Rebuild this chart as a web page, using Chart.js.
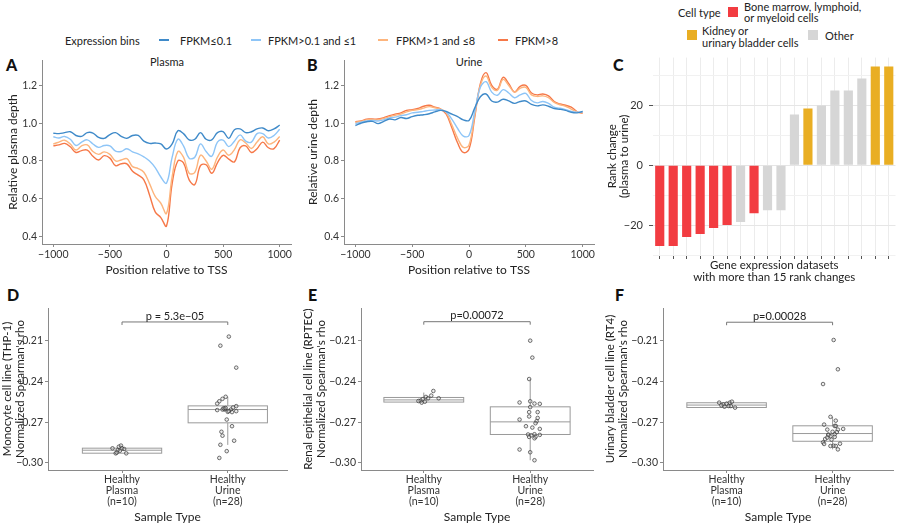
<!DOCTYPE html>
<html lang="en">
<head>
<meta charset="UTF-8">
<title>cfDNA TSS profiles and rank changes</title>
<script src="https://cdn.jsdelivr.net/npm/chart.js"></script>
<style>
  body { margin: 0; width: 900px; height: 524px; position: relative; overflow: hidden; background: #fff;
         font-family: Lato, "Open Sans", sans-serif; color: #222; }
  canvas { position: absolute; }
  .t { position: absolute; white-space: nowrap; font-size: 11px; line-height: 1; transform: translateY(-50%); }
  .c { transform: translate(-50%, -50%); }
  .letter { position: absolute; font-weight: 900; font-size: 16px; line-height: 1; transform: translateY(-50%); color: #111; }
  .sw { position: absolute; height: 2px; width: 10px; }
  .sq { position: absolute; width: 10px; height: 10px; }
</style>
</head>
<body>
  <!-- legends and panel labels -->
  <div class="t" style="left:65px; top:40px;">Expression bins</div>
  <div class="sw" style="left:159px; top:39px; background:#3f8ac9;"></div>
  <div class="t" style="left:180px; top:40px;">FPKM≤0.1</div>
  <div class="sw" style="left:251px; top:39px; background:#8ec5f7;"></div>
  <div class="t" style="left:268px; top:40px;">FPKM&gt;0.1 and ≤1</div>
  <div class="sw" style="left:378px; top:39px; background:#fdb57d;"></div>
  <div class="t" style="left:396px; top:40px;">FPKM&gt;1 and ≤8</div>
  <div class="sw" style="left:498px; top:39px; background:#f67848;"></div>
  <div class="t" style="left:515px; top:40px;">FPKM&gt;8</div>

  <div class="t" style="left:678px; top:12px;">Cell type</div>
  <div class="sq" style="left:728px; top:7px; background:#f23c41;"></div>
  <div class="t" style="left:744px; top:6px;">Bone marrow, lymphoid,</div>
  <div class="t" style="left:744px; top:17px;">or myeloid cells</div>
  <div class="sq" style="left:687px; top:30px; background:#e9ae23;"></div>
  <div class="t" style="left:702px; top:30px;">Kidney or</div>
  <div class="t" style="left:702px; top:42px;">urinary bladder cells</div>
  <div class="sq" style="left:808px; top:30px; background:#d6d6d6;"></div>
  <div class="t" style="left:825px; top:35px;">Other</div>

  <div class="letter" style="left:6px; top:65px;">A</div>
  <div class="letter" style="left:307px; top:65px;">B</div>
  <div class="letter" style="left:613px; top:65px;">C</div>
  <div class="letter" style="left:7px; top:295px;">D</div>
  <div class="letter" style="left:308px; top:295px;">E</div>
  <div class="letter" style="left:615px; top:295px;">F</div>

  <div class="t c" style="left:167px; top:61px;">Plasma</div>
  <div class="t c" style="left:469px; top:61px;">Urine</div>

  <canvas id="chartA" width="300" height="240" style="left:0; top:45px;"></canvas>
  <canvas id="chartB" width="300" height="240" style="left:300px; top:45px;"></canvas>
  <canvas id="chartC" width="310" height="245" style="left:590px; top:45px;"></canvas>
  <canvas id="chartD" width="300" height="234" style="left:0; top:290px;"></canvas>
  <canvas id="chartE" width="300" height="234" style="left:300px; top:290px;"></canvas>
  <canvas id="chartF" width="300" height="234" style="left:600px; top:290px;"></canvas>

<script>
// ---- panels A/B: coverage around TSS ----
const tssPos = [-1000, -950, -900, -850, -800, -750, -700, -650, -600, -550, -500, -450, -400, -350, -300, -250, -200, -150, -100, -50,
                0, 50, 100, 150, 200, 250, 300, 350, 400, 450, 500, 550, 600, 650, 700, 750, 800, 850, 900, 950, 1000];
const tssTicks = [-1000, -500, 0, 500, 1000];
const depthTicks = [0.4, 0.6, 0.8, 1.0, 1.2];

const binLabels = ['FPKM≤0.1', 'FPKM>0.1 and ≤1', 'FPKM>1 and ≤8', 'FPKM>8'];
const binColors = ['#3f8ac9', '#8ec5f7', '#fdb57d', '#f67848'];

const plasmaBin1 = [0.947, 0.945, 0.950, 0.955, 0.935, 0.930, 0.950, 0.948, 0.925, 0.920, 0.940, 0.950, 0.930, 0.920, 0.935, 0.935, 0.905, 0.893, 0.895, 0.890,
                    0.863, 0.890, 0.960, 0.945, 0.912, 0.915, 0.950, 0.915, 0.912, 0.950, 0.955, 0.920, 0.965, 0.970, 0.950, 0.955, 0.970, 0.975, 0.960, 0.970, 0.990];
const plasmaBin2 = [0.928, 0.922, 0.930, 0.915, 0.882, 0.900, 0.912, 0.890, 0.872, 0.882, 0.880, 0.852, 0.850, 0.865, 0.848, 0.838, 0.822, 0.800, 0.765, 0.715,
                    0.683, 0.820, 0.915, 0.880, 0.815, 0.820, 0.890, 0.850, 0.825, 0.900, 0.910, 0.876, 0.905, 0.938, 0.905, 0.900, 0.945, 0.945, 0.922, 0.935, 0.968];
const plasmaBin3 = [0.890, 0.900, 0.910, 0.890, 0.858, 0.880, 0.885, 0.850, 0.835, 0.848, 0.835, 0.800, 0.805, 0.812, 0.770, 0.760, 0.740, 0.680, 0.612, 0.576,
                    0.522, 0.717, 0.850, 0.820, 0.735, 0.740, 0.830, 0.800, 0.756, 0.820, 0.858, 0.830, 0.860, 0.912, 0.895, 0.866, 0.900, 0.928, 0.890, 0.900, 0.929];
const plasmaBin4 = [0.880, 0.885, 0.893, 0.875, 0.845, 0.855, 0.858, 0.825, 0.805, 0.828, 0.815, 0.775, 0.785, 0.785, 0.745, 0.725, 0.700, 0.620, 0.530, 0.500,
                    0.455, 0.680, 0.800, 0.790, 0.700, 0.675, 0.775, 0.780, 0.735, 0.790, 0.830, 0.810, 0.795, 0.870, 0.880, 0.845, 0.865, 0.900, 0.870, 0.865, 0.911];

const urineBin1 = [0.988, 1.000, 1.008, 1.010, 0.998, 1.010, 1.022, 1.018, 1.030, 1.025, 1.035, 1.042, 1.045, 1.050, 1.060, 1.068, 1.062, 1.048, 1.035, 1.018,
                   1.015, 1.080, 1.140, 1.155, 1.118, 1.112, 1.127, 1.118, 1.105, 1.115, 1.118, 1.100, 1.092, 1.097, 1.090, 1.078, 1.074, 1.068, 1.058, 1.055, 1.062];
const urineBin2 = [0.998, 1.005, 1.012, 1.015, 1.012, 1.018, 1.028, 1.032, 1.040, 1.045, 1.055, 1.058, 1.063, 1.068, 1.070, 1.072, 1.060, 1.020, 0.972, 0.932,
                   0.935, 1.060, 1.190, 1.220, 1.165, 1.148, 1.178, 1.160, 1.135, 1.150, 1.158, 1.120, 1.108, 1.115, 1.105, 1.085, 1.080, 1.072, 1.062, 1.058, 1.062];
const urineBin3 = [1.005, 1.010, 1.018, 1.020, 1.018, 1.025, 1.035, 1.042, 1.048, 1.060, 1.068, 1.072, 1.080, 1.088, 1.082, 1.075, 1.055, 0.990, 0.920, 0.872,
                   0.885, 1.040, 1.200, 1.250, 1.190, 1.175, 1.232, 1.200, 1.165, 1.185, 1.190, 1.150, 1.142, 1.145, 1.135, 1.110, 1.098, 1.090, 1.075, 1.060, 1.055];
const urineBin4 = [1.008, 1.012, 1.022, 1.022, 1.022, 1.030, 1.040, 1.048, 1.055, 1.068, 1.072, 1.078, 1.090, 1.095, 1.085, 1.075, 1.048, 0.975, 0.895, 0.845,
                   0.862, 1.030, 1.210, 1.268, 1.200, 1.180, 1.243, 1.210, 1.165, 1.195, 1.200, 1.160, 1.150, 1.155, 1.145, 1.115, 1.102, 1.095, 1.085, 1.062, 1.052];

// ---- panel C: rank changes ----
const rankChange = [-27, -27, -24, -23, -21, -20, -19, -16, -15, -15, 17, 19, 20, 25, 25, 29, 33, 33];
const rankType = ['blood', 'blood', 'blood', 'blood', 'blood', 'blood', 'other', 'blood', 'other', 'other',
                  'other', 'kidney', 'other', 'other', 'other', 'other', 'kidney', 'kidney'];
const typeColors = { blood: '#f23c41', kidney: '#e9ae23', other: '#d6d6d6' };
const rankTicks = [-30, -20, -10, 0, 10, 20, 30];

// ---- panels D/E/F: normalized Spearman's rho ----
const groupLabels = [['Healthy', 'Plasma', '(n=10)'], ['Healthy', 'Urine', '(n=28)']];
const rhoTicks = [-0.30, -0.27, -0.24, -0.21];

const thpPlasma = [-0.2892, -0.2880, -0.2872, -0.2897, -0.2929, -0.2905, -0.2910, -0.2929, -0.2892, -0.2924];
const thpPlasmaJit = [-0.09, -0.03, -0.01, 0.02, -0.06, -0.04, -0.02, 0.04, 0.00, -0.05];
const thpUrine = [-0.2068, -0.2135, -0.2297, -0.2512, -0.2527, -0.2545, -0.2562, -0.2610, -0.2606, -0.2599, -0.2606, -0.2606, -0.2591, -0.2581,
                  -0.2618, -0.2625, -0.2623, -0.2680, -0.2729, -0.2770, -0.2799, -0.2836, -0.2866, -0.2913, -0.2963, -0.2597, -0.2617, -0.2595];
const thpUrineJit = [0.01, -0.07, 0.08, -0.02, -0.05, -0.08, -0.10, -0.10, -0.03, -0.03, -0.05, 0.03, 0.05, 0.08,
                     0.08, 0.04, 0.00, -0.01, 0.04, -0.06, -0.05, 0.06, -0.07, -0.01, -0.08, -0.04, 0.01, -0.02];
// [lower whisker, q1, median, q3, upper whisker]
const thpBoxPlasma = [-0.2929, -0.2928, -0.2906, -0.2891, -0.2872];
const thpBoxUrine = [-0.2867, -0.2704, -0.2606, -0.2579, -0.2512];

const rptecPlasma = [-0.2469, -0.2503, -0.2523, -0.2513, -0.2523, -0.2540, -0.2555, -0.2543, -0.2548, -0.2530];
const rptecPlasmaJit = [0.09, 0.07, 0.14, 0.02, 0.04, -0.03, -0.02, -0.05, 0.01, -0.01];
const rptecUrine = [-0.2098, -0.2223, -0.2381, -0.2554, -0.2545, -0.2562, -0.2564, -0.2588, -0.2625, -0.2625, -0.2657, -0.2680, -0.2668, -0.2692,
                    -0.2707, -0.2729, -0.2739, -0.2749, -0.2790, -0.2788, -0.2793, -0.2808, -0.2818, -0.2808, -0.2901, -0.2921, -0.2980, -0.2796];
const rptecUrineJit = [0.00, 0.02, -0.01, -0.10, 0.00, 0.04, 0.09, 0.00, -0.01, 0.07, -0.01, -0.10, 0.07, 0.06,
                       0.05, -0.04, 0.02, 0.09, -0.02, 0.04, 0.09, 0.05, 0.04, -0.01, -0.10, 0.00, 0.04, 0.01];
const rptecBoxPlasma = [-0.2555, -0.2551, -0.2535, -0.2517, -0.2481];
const rptecBoxUrine = [-0.2980, -0.2790, -0.2697, -0.2586, -0.2381];

const rt4Plasma = [-0.2555, -0.2568, -0.2563, -0.2555, -0.2548, -0.2580, -0.2585, -0.2592, -0.2580, -0.2575];
const rt4PlasmaJit = [-0.07, -0.03, 0.00, 0.03, 0.05, 0.02, -0.02, 0.08, 0.04, -0.05];
const rt4Urine = [-0.2093, -0.2309, -0.2418, -0.2660, -0.2688, -0.2717, -0.2727, -0.2727, -0.2754, -0.2754, -0.2749, -0.2790, -0.2803, -0.2788,
                  -0.2808, -0.2823, -0.2828, -0.2848, -0.2860, -0.2858, -0.2875, -0.2873, -0.2875, -0.2900, -0.2795, -0.2772, -0.2770, -0.2813];
const rt4UrineJit = [0.01, 0.05, -0.09, -0.02, 0.03, -0.08, 0.02, 0.03, -0.05, 0.05, 0.10, -0.04, -0.02, 0.02,
                     0.02, -0.07, -0.01, -0.09, -0.08, 0.07, -0.02, 0.01, 0.03, 0.05, -0.04, 0.04, 0.00, -0.05];
const rt4BoxPlasma = [-0.2592, -0.2591, -0.2573, -0.2556, -0.2548];
const rt4BoxUrine = [-0.2900, -0.2840, -0.2783, -0.2726, -0.2660];

Chart.defaults.font.family = 'Lato, "Open Sans", sans-serif';
Chart.defaults.color = '#333';
Chart.defaults.animation = false;

const AXIS = '#8a8a8a';
const minus = v => (v < 0 ? '\u2212' : '') + Math.abs(v);
const noPlugins = { legend: { display: false }, tooltip: { enabled: false } };

function profileChart(id, series, yTitle, yWidth, padRight) {
  new Chart(document.getElementById(id), {
    type: 'line',
    data: {
      datasets: series.map((vals, i) => ({
        label: binLabels[i],
        data: tssPos.map((p, j) => ({ x: p, y: vals[j] })),
        borderColor: binColors[i],
        borderWidth: 1.4,
        pointRadius: 0,
        tension: 0.4,
        fill: false
      }))
    },
    options: {
      responsive: false,
      layout: { padding: { top: 15, right: padRight, left: 0, bottom: 0 } },
      plugins: noPlugins,
      scales: {
        x: {
          type: 'linear', min: -1100, max: 1100,
          afterBuildTicks: s => { s.ticks = tssTicks.map(v => ({ value: v })); },
          afterFit: s => { s.height = 41; },
          ticks: { callback: v => minus(v), font: { size: 10.5 }, padding: 1, maxRotation: 0 },
          grid: { drawOnChartArea: false, tickLength: 3, color: AXIS },
          border: { color: AXIS },
          title: { display: true, text: 'Position relative to TSS', color: '#222', font: { size: 12 }, padding: { top: 0, bottom: 8 } }
        },
        y: {
          min: 0.36, max: 1.335,
          afterBuildTicks: s => { s.ticks = depthTicks.map(v => ({ value: v })); },
          afterFit: s => { s.width = yWidth; },
          ticks: { callback: v => v.toFixed(1), font: { size: 10.5 }, padding: 2 },
          grid: { drawOnChartArea: false, tickLength: 3, color: AXIS },
          border: { color: AXIS },
          title: { display: true, text: yTitle, color: '#222', font: { size: 12 }, padding: { top: 6, bottom: 0 } }
        }
      }
    }
  });
}

profileChart('chartA', [plasmaBin1, plasmaBin2, plasmaBin3, plasmaBin4], 'Relative plasma depth', 42, 9);
profileChart('chartB', [urineBin1, urineBin2, urineBin3, urineBin4], 'Relative urine depth', 44, 6);

// panel C
new Chart(document.getElementById('chartC'), {
  type: 'bar',
  data: {
    labels: rankChange.map((_, i) => String(i + 1)),
    datasets: [{
      data: rankChange,
      backgroundColor: rankType.map(t => typeColors[t]),
      barPercentage: 0.68,
      categoryPercentage: 1
    }]
  },
  options: {
    responsive: false,
    layout: { padding: { top: 10, right: 4.5, left: 0, bottom: 0 } },
    plugins: noPlugins,
    scales: {
      x: {
        afterFit: s => { s.height = 35; },
        ticks: { callback: () => '', padding: 0 },
        grid: { offset: false, color: '#ececec', tickColor: '#555', tickLength: 4 },
        border: { display: false },
        title: { display: true, text: ['Gene expression datasets', 'with more than 15 rank changes'], color: '#222',
                 font: { size: 11.5, lineHeight: 1.05 }, padding: { top: 0, bottom: 7 } }
      },
      y: {
        min: -30, max: 36,
        afterBuildTicks: s => { s.ticks = rankTicks.map(v => ({ value: v })); },
        afterFit: s => { s.width = 63; },
        ticks: { callback: v => (v % 20 === 0 ? minus(v) : ''), font: { size: 11 }, padding: 6 },
        grid: {
          color: ctx => (ctx.tick && ctx.tick.value % 20 === 0 ? '#e6e6e6' : '#f1f1f1'),
          tickColor: ctx => (ctx.tick && ctx.tick.value % 20 === 0 ? '#555' : 'rgba(0,0,0,0)'),
          tickLength: 4
        },
        border: { display: false },
        title: { display: true, text: ['Rank change', '(plasma to urine)'], color: '#222',
                 font: { size: 11.5, lineHeight: 1.0 }, padding: { top: 17, bottom: 0 } }
      }
    }
  }
});

// box plots drawn from the chart's own scales
function boxPlugin(boxes, bracketY, pText) {
  const half = 0.375;
  return {
    id: 'boxes',
    beforeDatasetsDraw(chart) {
      const { ctx, scales: { x, y } } = chart;
      ctx.save();
      ctx.strokeStyle = '#9a9a9a';
      ctx.lineWidth = 1;
      boxes.forEach((b, i) => {
        const g = i + 1;
        const xl = x.getPixelForValue(g - half), xr = x.getPixelForValue(g + half), xc = x.getPixelForValue(g);
        const [lo, q1, med, q3, hi] = b.map(v => y.getPixelForValue(v));
        ctx.fillStyle = '#fff';
        ctx.fillRect(xl, q3, xr - xl, q1 - q3);
        ctx.strokeRect(xl, q3, xr - xl, q1 - q3);
        ctx.beginPath();
        ctx.moveTo(xl, med); ctx.lineTo(xr, med);
        ctx.moveTo(xc, q3); ctx.lineTo(xc, hi);
        ctx.moveTo(xc, q1); ctx.lineTo(xc, lo);
        ctx.stroke();
      });
      ctx.restore();
    },
    afterDatasetsDraw(chart) {
      const { ctx, scales: { x, y } } = chart;
      const x1 = x.getPixelForValue(1), x2 = x.getPixelForValue(2);
      const yb = y.getPixelForValue(bracketY);
      ctx.save();
      ctx.strokeStyle = '#777';
      ctx.lineWidth = 1;
      ctx.beginPath();
      ctx.moveTo(x1, yb + 3); ctx.lineTo(x1, yb); ctx.lineTo(x2, yb); ctx.lineTo(x2, yb + 3);
      ctx.stroke();
      ctx.fillStyle = '#222';
      ctx.font = '11px Lato, "Open Sans", sans-serif';
      ctx.textAlign = 'center';
      ctx.textBaseline = 'bottom';
      ctx.fillText(pText, (x1 + x2) / 2, yb - 0.5);
      ctx.restore();
    }
  };
}

function boxChart(id, cfg) {
  const pts = (vals, jit, g) => vals.map((v, i) => ({ x: g + jit[i], y: v }));
  const style = { pointRadius: 1.8, pointBorderWidth: 0.8, pointBorderColor: 'rgba(60,60,60,0.9)', pointBackgroundColor: 'rgba(200,200,200,0.35)' };
  new Chart(document.getElementById(id), {
    type: 'scatter',
    data: {
      datasets: [
        Object.assign({ data: pts(cfg.plasma, cfg.plasmaJit, 1) }, style),
        Object.assign({ data: pts(cfg.urine, cfg.urineJit, 2) }, style)
      ]
    },
    options: {
      responsive: false,
      layout: { padding: { top: 18, right: cfg.padRight, left: 0, bottom: 0 } },
      plugins: noPlugins,
      scales: {
        x: {
          type: 'linear', min: cfg.xmin, max: cfg.xmax,
          afterBuildTicks: s => { s.ticks = [{ value: 1 }, { value: 2 }]; },
          afterFit: s => { s.height = 54; },
          ticks: { callback: v => groupLabels[Math.round(v) - 1], font: { size: 10.5, lineHeight: 1.05 }, padding: 1, maxRotation: 0 },
          grid: { drawOnChartArea: false, tickLength: 3, color: AXIS },
          border: { color: AXIS },
          title: { display: true, text: 'Sample Type', color: '#222', font: { size: 12 }, padding: { top: 0, bottom: 0 } }
        },
        y: {
          min: -0.3052, max: -0.1857,
          afterBuildTicks: s => { s.ticks = rhoTicks.map(v => ({ value: v })); },
          afterFit: s => { s.width = cfg.yWidth; },
          ticks: { callback: v => '\u2212' + Math.abs(v).toFixed(2), font: { size: 10.5 }, padding: 2 },
          grid: { drawOnChartArea: false, tickLength: 3, color: AXIS },
          border: { color: AXIS },
          title: { display: true, text: cfg.yTitle, color: '#222', font: { size: 11.5, lineHeight: 1.15 }, padding: { top: cfg.titlePad, bottom: 0 } }
        }
      }
    },
    plugins: [boxPlugin(cfg.boxes, cfg.bracketY, cfg.pText)]
  });
}

boxChart('chartD', {
  plasma: thpPlasma, plasmaJit: thpPlasmaJit, urine: thpUrine, urineJit: thpUrineJit,
  boxes: [thpBoxPlasma, thpBoxUrine], bracketY: -0.196, pText: 'p = 5.3e\u221205',
  yTitle: ['Monocyte cell line (THP-1)', "Normalized Spearman's rho"],
  xmin: 0.30, xmax: 2.56, yWidth: 48, padRight: 13, titlePad: 0.5
});
boxChart('chartE', {
  plasma: rptecPlasma, plasmaJit: rptecPlasmaJit, urine: rptecUrine, urineJit: rptecUrineJit,
  boxes: [rptecBoxPlasma, rptecBoxUrine], bracketY: -0.1958, pText: 'p=0.00072',
  yTitle: ['Renal epithelial cell line (RPTEC)', "Normalized Spearman's rho"],
  xmin: 0.41, xmax: 2.59, yWidth: 61, padRight: 7, titlePad: 1.5
});
boxChart('chartF', {
  plasma: rt4Plasma, plasmaJit: rt4PlasmaJit, urine: rt4Urine, urineJit: rt4UrineJit,
  boxes: [rt4BoxPlasma, rt4BoxUrine], bracketY: -0.1962, pText: 'p=0.00028',
  yTitle: ['Urinary bladder cell line (RT4)', "Normalized Spearman's rho"],
  xmin: 0.40, xmax: 2.57, yWidth: 63, padRight: 7, titlePad: 3.5
});
</script>
</body>
</html>
